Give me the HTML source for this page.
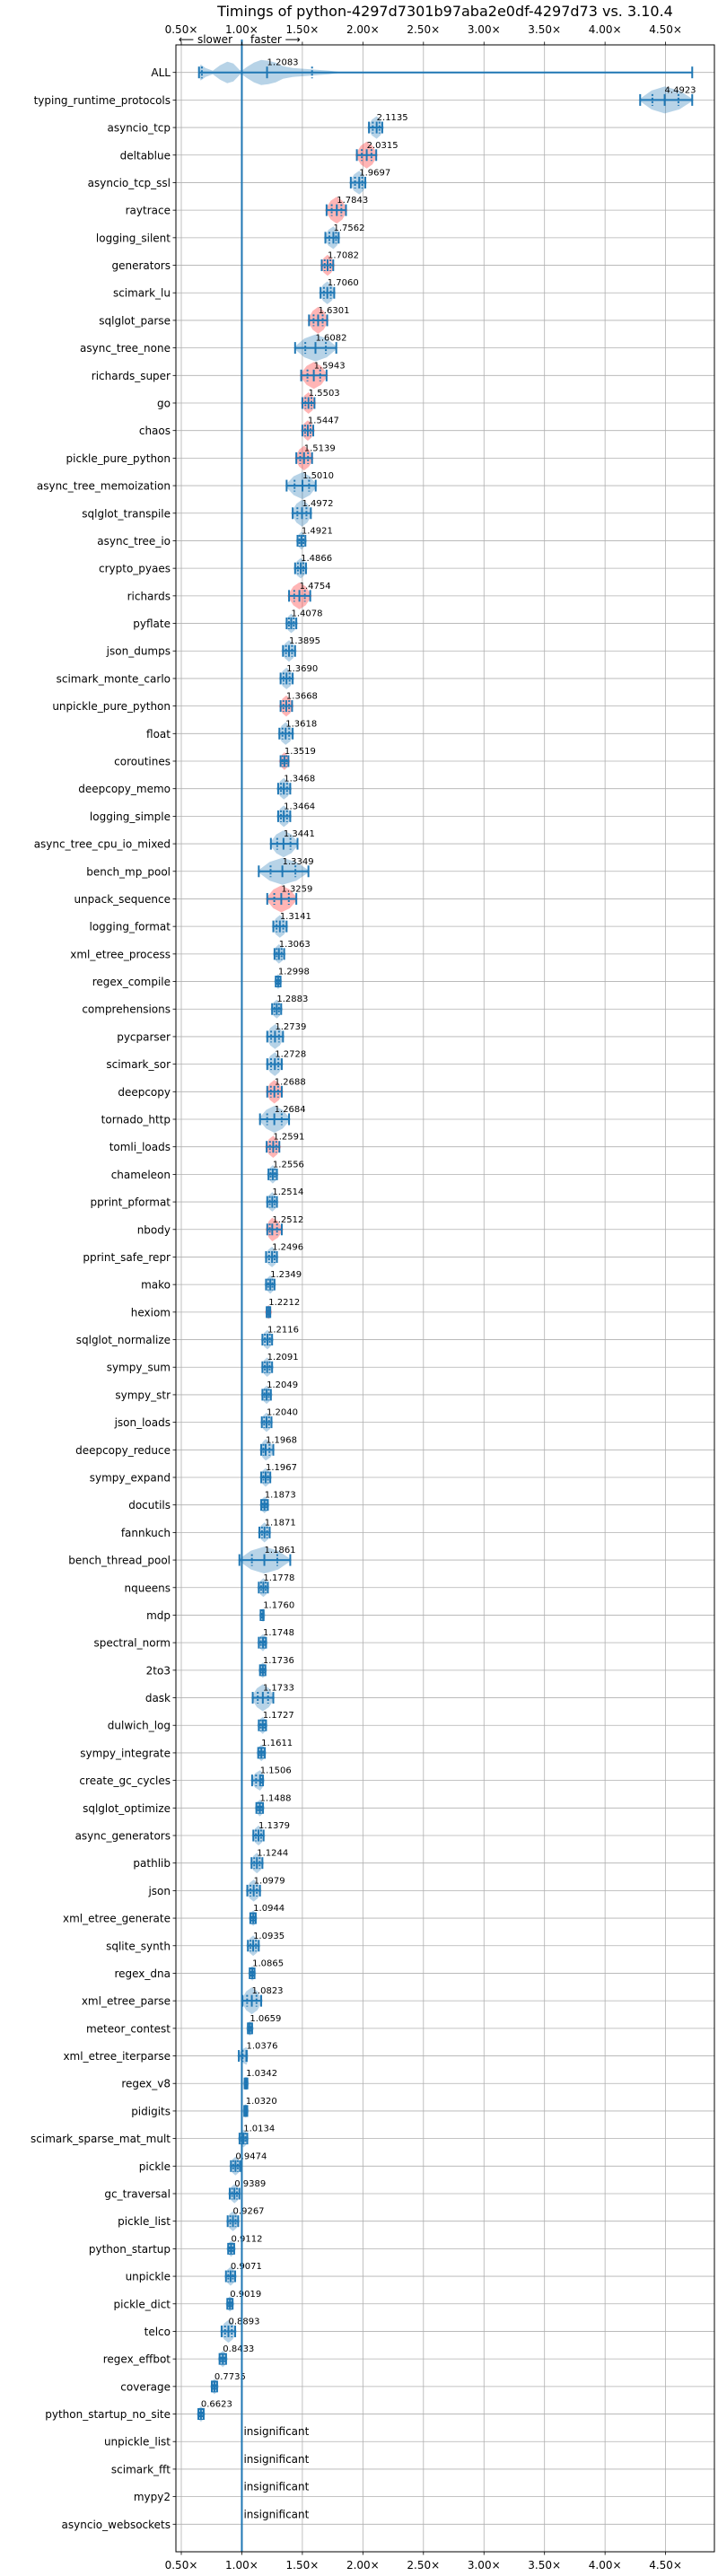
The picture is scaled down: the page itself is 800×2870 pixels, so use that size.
<!DOCTYPE html>
<html><head><meta charset="utf-8">
<style>
html,body{margin:0;padding:0;background:#fff;}
svg{display:block;font-family:"DejaVu Sans","Liberation Sans",sans-serif;}
</style></head>
<body>
<svg id="chart" width="800" height="2870" viewBox="0 0 800 2870" xmlns="http://www.w3.org/2000/svg">
<text x="496" y="18" font-size="16" text-anchor="middle" fill="#000">Timings of python-4297d7301b97aba2e0df-4297d73 vs. 3.10.4</text>
<g id="grid"></g>
<g id="marks"></g>
<g id="axes"></g>
</svg>
<script>
const benchmarks = ["ALL","typing_runtime_protocols","asyncio_tcp","deltablue","asyncio_tcp_ssl","raytrace","logging_silent","generators","scimark_lu","sqlglot_parse","async_tree_none","richards_super","go","chaos","pickle_pure_python","async_tree_memoization","sqlglot_transpile","async_tree_io","crypto_pyaes","richards","pyflate","json_dumps","scimark_monte_carlo","unpickle_pure_python","float","coroutines","deepcopy_memo","logging_simple","async_tree_cpu_io_mixed","bench_mp_pool","unpack_sequence","logging_format","xml_etree_process","regex_compile","comprehensions","pycparser","scimark_sor","deepcopy","tornado_http","tomli_loads","chameleon","pprint_pformat","nbody","pprint_safe_repr","mako","hexiom","sqlglot_normalize","sympy_sum","sympy_str","json_loads","deepcopy_reduce","sympy_expand","docutils","fannkuch","bench_thread_pool","nqueens","mdp","spectral_norm","2to3","dask","dulwich_log","sympy_integrate","create_gc_cycles","sqlglot_optimize","async_generators","pathlib","json","xml_etree_generate","sqlite_synth","regex_dna","xml_etree_parse","meteor_contest","xml_etree_iterparse","regex_v8","pidigits","scimark_sparse_mat_mult","pickle","gc_traversal","pickle_list","python_startup","unpickle","pickle_dict","telco","regex_effbot","coverage","python_startup_no_site","unpickle_list","scimark_fft","mypy2","asyncio_websockets"];
const medians = [1.2083,4.4923,2.1135,2.0315,1.9697,1.7843,1.7562,1.7082,1.7060,1.6301,1.6082,1.5943,1.5503,1.5447,1.5139,1.5010,1.4972,1.4921,1.4866,1.4754,1.4078,1.3895,1.3690,1.3668,1.3618,1.3519,1.3468,1.3464,1.3441,1.3349,1.3259,1.3141,1.3063,1.2998,1.2883,1.2739,1.2728,1.2688,1.2684,1.2591,1.2556,1.2514,1.2512,1.2496,1.2349,1.2212,1.2116,1.2091,1.2049,1.2040,1.1968,1.1967,1.1873,1.1871,1.1861,1.1778,1.1760,1.1748,1.1736,1.1733,1.1727,1.1611,1.1506,1.1488,1.1379,1.1244,1.0979,1.0944,1.0935,1.0865,1.0823,1.0659,1.0376,1.0342,1.0320,1.0134,0.9474,0.9389,0.9267,0.9112,0.9071,0.9019,0.8893,0.8433,0.7735,0.6623,null,null,null,null];
const lowerBounds = [0.646,4.29,2.05,1.95,1.90,1.70,1.69,1.66,1.65,1.555,1.44,1.49,1.50,1.50,1.45,1.37,1.42,1.46,1.44,1.39,1.37,1.34,1.32,1.32,1.31,1.32,1.30,1.30,1.24,1.14,1.21,1.26,1.27,1.28,1.25,1.21,1.21,1.21,1.15,1.205,1.22,1.21,1.21,1.20,1.20,1.205,1.17,1.17,1.17,1.165,1.16,1.16,1.16,1.145,0.98,1.14,1.155,1.14,1.15,1.09,1.14,1.135,1.085,1.12,1.095,1.08,1.045,1.07,1.05,1.065,1.005,1.05,0.975,1.023,1.02,0.981,0.91,0.90,0.883,0.887,0.869,0.88,0.833,0.816,0.752,0.641,null,null,null,null];
const upperBounds = [4.72,4.72,2.16,2.11,2.02,1.86,1.80,1.755,1.763,1.705,1.78,1.70,1.60,1.59,1.58,1.61,1.57,1.525,1.53,1.565,1.45,1.44,1.42,1.415,1.42,1.385,1.40,1.40,1.46,1.55,1.45,1.37,1.35,1.32,1.325,1.34,1.33,1.33,1.39,1.31,1.29,1.29,1.33,1.29,1.27,1.235,1.25,1.25,1.24,1.245,1.26,1.235,1.215,1.23,1.40,1.215,1.18,1.20,1.195,1.26,1.20,1.19,1.175,1.175,1.18,1.17,1.15,1.115,1.14,1.105,1.16,1.085,1.04,1.046,1.045,1.045,0.985,0.98,0.97,0.937,0.945,0.924,0.945,0.87,0.796,0.685,null,null,null,null];
const slowerFlags = [0,0,0,1,0,1,0,1,0,1,0,1,1,1,1,0,0,0,0,1,0,0,0,1,0,1,0,0,0,0,1,0,0,0,0,0,0,1,0,1,0,0,1,0,0,1,0,0,0,0,0,0,0,0,0,0,0,0,0,0,0,0,0,0,0,0,0,0,0,0,0,0,0,0,0,0,0,0,0,0,0,0,0,0,0,0,0,0,0,0];
const xTicks = [0.5,1.0,1.5,2.0,2.5,3.0,3.5,4.0,4.5];
const xTickLabels = ["0.50×","1.00×","1.50×","2.00×","2.50×","3.00×","3.50×","4.00×","4.50×"];
const allProfileX = [0.64,0.66,0.70,0.76,0.82,0.88,0.93,0.98,1.0,1.04,1.10,1.16,1.22,1.28,1.34,1.42,1.52,1.62,1.72,1.85];
const allProfileH = [0,9,5,2,8,12,10,3,2,6,11,14,13,11,7,5,4,3,2,0];

const NS = "http://www.w3.org/2000/svg";
const PL = 196, PR = 796, PT = 50, PB = 2843;
function xs(v){ return 202 + (v - 0.5) * 134.9; }
function ys(i){ return PT + (i + 1) * (PB - PT) / (benchmarks.length + 1); }
function mk(tag, attrs, parent){ const e = document.createElementNS(NS, tag); for (const k in attrs) e.setAttribute(k, attrs[k]); parent.appendChild(e); return e; }
const grid = document.getElementById('grid'), marks = document.getElementById('marks'), axes = document.getElementById('axes');
const BLUE = "#1f77b4";

// grid
xTicks.forEach((t, k) => {
  const g = mk('line', {x1: xs(t), x2: xs(t), y1: PT, y2: PB, stroke: "#b0b0b0", "stroke-width": 0.8}, grid);
  
  
});
benchmarks.forEach((b, i) => {
  const g = mk('line', {x1: PL, x2: PR, y1: ys(i), y2: ys(i), stroke: "#b0b0b0", "stroke-width": 0.8}, grid);
  
  
});

// marks
benchmarks.forEach((b, i) => {
  const y = ys(i), v = medians[i];
  const grp = mk('g', {}, marks);
  
  
  if (v === null) {
    const t = mk('text', {x: xs(1.0) + 2, y: y - 7, "font-size": 12, fill: "#000"}, grp);
    t.textContent = "insignificant";
    
    
    return;
  }
  const lo = lowerBounds[i], hi = upperBounds[i];
  const fill = slowerFlags[i] ? "rgba(255,60,60,0.38)" : "rgba(31,119,180,0.32)";
  let pts;
  if (i === 0) {
    const top = allProfileX.map((px, k) => xs(px) + "," + (y - allProfileH[k]));
    const bot = allProfileX.map((px, k) => xs(px) + "," + (y + allProfileH[k])).reverse();
    pts = top.concat(bot).join(" ");
  } else {
    const h = Math.min(15, 6 + (hi - lo) * 60);
    const a = xs(lo) - 2, c = xs(v), d = xs(hi) + 2;
    pts = [a + "," + y, (a + c) / 2 + "," + (y - h * 0.7), c + "," + (y - h), (c + d) / 2 + "," + (y - h * 0.7), d + "," + y,
           (c + d) / 2 + "," + (y + h * 0.7), c + "," + (y + h), (a + c) / 2 + "," + (y + h * 0.7)].join(" ");
  }
  const vio = mk('polygon', {points: pts, fill: fill}, grp);
  
  
  const ln = mk('line', {x1: xs(lo), x2: xs(hi), y1: y, y2: y, stroke: BLUE, "stroke-width": 2}, grp);
  
  
  [lo, hi, v].forEach(p => {
    const c = mk('line', {x1: xs(p), x2: xs(p), y1: y - 6.5, y2: y + 6.5, stroke: BLUE, "stroke-width": 2}, grp);
    
    
  });
  const q1 = i === 0 ? 0.67 : v - (v - lo) * 0.5, q3 = i === 0 ? 1.58 : v + (hi - v) * 0.5;
  [q1, q3].forEach(p => {
    const q = mk('line', {x1: xs(p), x2: xs(p), y1: y - 6.5, y2: y + 6.5, stroke: BLUE, "stroke-width": 2, "stroke-dasharray": "2,2"}, grp);
    
    
  });
  const t = mk('text', {x: xs(v), y: y - 8, "font-size": 10, fill: "#000"}, grp);
  t.textContent = v.toFixed(4);
  
  
});

// 1.0 reference line
const ref = mk('line', {x1: xs(1.0), x2: xs(1.0), y1: 44, y2: PB, stroke: BLUE, "stroke-width": 2}, axes);



// frame
const fr = mk('rect', {x: PL, y: PT, width: PR - PL, height: PB - PT, fill: "none", stroke: "#000", "stroke-width": 1}, axes);



// x ticks
xTicks.forEach((t, k) => {
  const x = xs(t);
  mk('line', {x1: x, x2: x, y1: PT, y2: PT - 3.5, stroke: "#000", "stroke-width": 0.8}, axes);
  mk('line', {x1: x, x2: x, y1: PB, y2: PB + 3.5, stroke: "#000", "stroke-width": 0.8}, axes);
  const a = mk('text', {x: x, y: 37, "font-size": 12, "text-anchor": "middle", fill: "#000"}, axes);
  a.textContent = xTickLabels[k];
  
  
  const b = mk('text', {x: x, y: 2862, "font-size": 12, "text-anchor": "middle", fill: "#000"}, axes);
  b.textContent = xTickLabels[k];
  
  
});

// y labels
benchmarks.forEach((b, i) => {
  const y = ys(i);
  mk('line', {x1: PL, x2: PL - 3.5, y1: y, y2: y, stroke: "#000", "stroke-width": 0.8}, axes);
  const t = mk('text', {x: PL - 6, y: y + 4.5, "font-size": 12, "text-anchor": "end", fill: "#000"}, axes);
  t.textContent = b;
  
  
});

// slower / faster
const s1 = mk('text', {x: 259, y: 48, "font-size": 12, "text-anchor": "end", fill: "#000"}, axes);
s1.textContent = "⟵ slower";


const s2 = mk('text', {x: 279, y: 48, "font-size": 12, fill: "#000"}, axes);
s2.textContent = "faster ⟶";


</script>
</body></html>
